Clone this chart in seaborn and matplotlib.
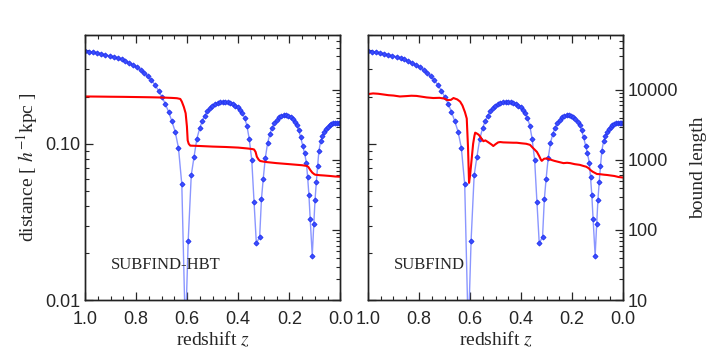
#--Import libraries--#
import seaborn as sns
import matplotlib.pyplot as plt
from matplotlib.ticker import NullFormatter, LogLocator

#--Data--#
# snapshot redshifts and subhalo distance [h^-1 kpc]
z_snap = [1.000, 0.984, 0.968, 0.952, 0.936, 0.920, 0.904, 0.888, 0.872, 0.857,
          0.842, 0.827, 0.812, 0.797, 0.782, 0.768, 0.754, 0.740, 0.726, 0.712,
          0.699, 0.686, 0.673, 0.660, 0.647, 0.634, 0.621, 0.607, 0.596, 0.584,
          0.573, 0.562, 0.551, 0.541, 0.531, 0.521, 0.511, 0.501, 0.491, 0.481,
          0.471, 0.461, 0.451, 0.441, 0.431, 0.421, 0.411, 0.402, 0.393, 0.384,
          0.375, 0.366, 0.357, 0.347, 0.338, 0.329, 0.316, 0.309, 0.302, 0.294,
          0.285, 0.276, 0.267, 0.258, 0.249, 0.240, 0.231, 0.222, 0.213, 0.204,
          0.195, 0.187, 0.179, 0.171, 0.163, 0.155, 0.147, 0.140, 0.133, 0.128,
          0.123, 0.118, 0.110, 0.104, 0.099, 0.094, 0.089, 0.084, 0.077, 0.070,
          0.063, 0.056, 0.049, 0.042, 0.035, 0.028, 0.021, 0.014, 0.007, 0.000]
dist = [0.395, 0.391, 0.388, 0.384, 0.379, 0.373, 0.367, 0.363, 0.356, 0.348,
        0.339, 0.331, 0.321, 0.310, 0.298, 0.285, 0.271, 0.256, 0.239, 0.219,
        0.200, 0.181, 0.161, 0.140, 0.120, 0.094, 0.055, 0.006, 0.024, 0.063,
        0.083, 0.108, 0.126, 0.140, 0.152, 0.162, 0.170, 0.176, 0.180, 0.183,
        0.185, 0.186, 0.186, 0.185, 0.183, 0.180, 0.176, 0.172, 0.166, 0.158,
        0.147, 0.131, 0.108, 0.079, 0.0424, 0.0231, 0.0254, 0.0443, 0.060, 0.081,
        0.101, 0.116, 0.127, 0.136, 0.143, 0.148, 0.151, 0.153, 0.153, 0.152,
        0.149, 0.145, 0.139, 0.132, 0.122, 0.110, 0.097, 0.087, 0.076, 0.061,
        0.047, 0.033, 0.0192, 0.0305, 0.044, 0.057, 0.072, 0.090, 0.104, 0.113,
        0.119, 0.125, 0.129, 0.132, 0.134, 0.136, 0.137, 0.137, 0.137, 0.136]

# bound length, SUBFIND-HBT
z_hbt = [1.0, 0.95, 0.90, 0.85, 0.80, 0.75, 0.70, 0.66, 0.64, 0.627, 0.621, 0.613,
         0.606, 0.601, 0.598, 0.594, 0.588, 0.55, 0.50, 0.45, 0.40, 0.366, 0.345,
         0.338, 0.332, 0.327, 0.320, 0.314, 0.30, 0.287, 0.25, 0.20, 0.15, 0.131,
         0.125, 0.118, 0.110, 0.102, 0.098, 0.08, 0.065, 0.04, 0.02, 0.0]
len_hbt = [8050, 8020, 7980, 7950, 7900, 7850, 7780, 7680, 7600, 7420, 6800, 5700,
           4640, 3000, 1900, 1700, 1600, 1580, 1550, 1530, 1500, 1460, 1430,
           1410, 1300, 1110, 1010, 965, 945, 930, 900, 870, 840, 820,
           790, 720, 660, 625, 615, 605, 600, 590, 580, 575]

# bound length, SUBFIND
z_sf = [1.0, 0.98, 0.96, 0.94, 0.92, 0.90, 0.875, 0.85, 0.83, 0.81, 0.79, 0.77,
        0.744, 0.72, 0.70, 0.69, 0.675, 0.665, 0.65, 0.639, 0.63, 0.62, 0.613,
        0.608, 0.604, 0.600, 0.596, 0.593, 0.588, 0.583, 0.580, 0.575, 0.567,
        0.56, 0.555, 0.548, 0.54, 0.53, 0.522, 0.515, 0.509, 0.50, 0.49, 0.482,
        0.47, 0.45, 0.43, 0.417, 0.40, 0.38, 0.365, 0.355, 0.345, 0.338, 0.33,
        0.322, 0.319, 0.31, 0.299, 0.285, 0.27, 0.25, 0.234, 0.22, 0.208, 0.19,
        0.17, 0.156, 0.145, 0.135, 0.129, 0.12, 0.11, 0.103, 0.09, 0.075, 0.064,
        0.05, 0.035, 0.018, 0.0]
len_sf = [8700, 8900, 8800, 8600, 8400, 8300, 8050, 8150, 8250, 8200, 8000, 7800,
          7650, 7700, 7500, 7150, 7200, 7650, 7300, 6800, 6000, 4800, 3900,
          1500, 470, 600, 850, 1100, 1700, 2200, 2450, 2400, 2300,
          2150, 2000, 1850, 1900, 1800, 1720, 1650, 1580, 1680, 1780, 1800,
          1780, 1770, 1760, 1760, 1730, 1700, 1640, 1500, 1380, 1300, 1150,
          1000, 970, 1040, 1050, 1010, 970, 930, 900, 910, 900, 870,
          850, 820, 800, 760, 720, 680, 650, 630, 625, 615, 610,
          600, 590, 570, 560]

panel_names = ['SUBFIND-HBT', 'SUBFIND']
x_ticks = [1.0, 0.8, 0.6, 0.4, 0.2, 0.0]
x_ticklabels = ['1.0', '0.8', '0.6', '0.4', '0.2', '0.0']

#--Style--#
sns.set_style('ticks')
plt.rcParams['font.family'] = ['Liberation Sans', 'DejaVu Sans']
plt.rcParams['mathtext.fontset'] = 'stix'
serif = 'Liberation Serif'

fig = plt.figure(figsize=(7.09, 3.54), dpi=100)
boxes = [[0.120, 0.1525, 0.360, 0.749], [0.519, 0.1525, 0.360, 0.749]]
red_sets = [(z_hbt, len_hbt), (z_sf, len_sf)]

for i in range(2):
    ax = fig.add_axes(boxes[i])
    sns.lineplot(x=z_snap, y=dist, ax=ax, sort=False, estimator=None,
                 color='#8a96ff', lw=1.0, marker='D', markersize=2.6,
                 markerfacecolor='#3a4cff', markeredgecolor='#2233ee',
                 markeredgewidth=0.6)
    ax.set_yscale('log')
    ax.set_ylim(0.01, 0.5)
    ax.set_xlim(1.0, 0.0)
    ax.set_xticks(x_ticks)
    ax.set_xticklabels(x_ticklabels, fontsize=13)
    ax.set_xticks([1 - 0.05 * k for k in range(21)], minor=True)
    ax.set_yticks([0.01, 0.1])
    ax.yaxis.set_minor_locator(LogLocator(subs=range(2, 10)))
    ax.yaxis.set_minor_formatter(NullFormatter())
    if i == 0:
        ax.set_yticklabels(['0.01', '0.10'], fontsize=13)
        ax.set_ylabel('distance [ $h^{-1}$kpc ]', family=serif, fontsize=14)
    else:
        ax.set_yticklabels([])
        ax.set_ylabel('')
    ax.set_xlabel('redshift $z$', family=serif, fontsize=14, labelpad=1)
    ax.tick_params(which='both', direction='in', top=True, right=False)
    ax.tick_params(which='major', length=6, width=0.9)
    ax.tick_params(which='minor', length=3, width=0.8)
    ax.tick_params(axis='x', which='major', pad=8)
    ax.text(0.898, 0.0167, panel_names[i], family=serif, fontsize=12, va='center')

    #--bound length on twin axis--#
    ax2 = ax.twinx()
    sns.lineplot(x=red_sets[i][0], y=red_sets[i][1], ax=ax2, sort=False,
                 estimator=None, color='red', lw=1.5)
    ax2.set_yscale('log')
    ax2.set_ylim(10, 6.1e4)
    ax2.set_yticks([10, 100, 1000, 10000])
    ax2.yaxis.set_minor_locator(LogLocator(subs=range(2, 10)))
    ax2.yaxis.set_minor_formatter(NullFormatter())
    ax2.tick_params(which='both', direction='in')
    ax2.tick_params(which='major', length=6, width=0.9)
    ax2.tick_params(which='minor', length=3, width=0.8)
    if i == 1:
        ax2.set_yticklabels(['10', '100', '1000', '10000'], fontsize=13)
        ax2.set_ylabel('bound length', family=serif, fontsize=14, labelpad=8)
    else:
        ax2.set_yticklabels([])
        ax2.set_ylabel('')
    for a in (ax, ax2):
        for s in a.spines.values():
            s.set_color('#222222')
            s.set_linewidth(1.0)

fig.savefig('out.png', dpi=100)
